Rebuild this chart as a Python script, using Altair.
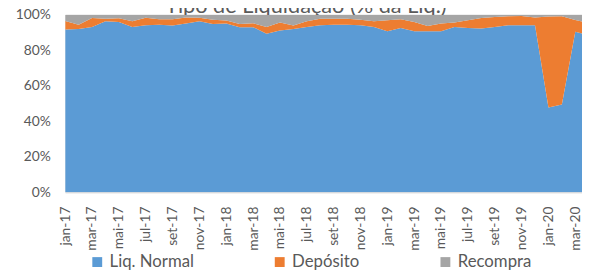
import altair as alt
import pandas as pd

# ---- data ----
meses = ["jan-17", "fev-17", "mar-17", "abr-17", "mai-17", "jun-17", "jul-17", "ago-17",
         "set-17", "out-17", "nov-17", "dez-17", "jan-18", "fev-18", "mar-18", "abr-18",
         "mai-18", "jun-18", "jul-18", "ago-18", "set-18", "out-18", "nov-18", "dez-18",
         "jan-19", "fev-19", "mar-19", "abr-19", "mai-19", "jun-19", "jul-19", "ago-19",
         "set-19", "out-19", "nov-19", "dez-19", "jan-20", "fev-20", "mar-20", "abr-20"]

liq_normal = [91.7, 92.0, 93.1, 96.3, 95.9, 93.1, 94.1, 94.4, 94.0, 95.0,
              96.3, 94.8, 95.0, 93.0, 93.0, 89.3, 91.1, 92.0, 93.1, 94.1,
              94.4, 94.4, 94.1, 93.1, 90.7, 92.6, 90.7, 90.7, 90.7, 93.1,
              92.6, 92.2, 93.1, 94.1, 94.1, 94.1, 47.8, 49.5, 90.4, 88.5]

deposito = [4.8, 2.4, 5.0, 1.5, 2.1, 3.2, 4.2, 3.0, 3.4, 3.5,
            2.0, 2.4, 1.7, 1.8, 2.2, 3.8, 4.6, 1.9, 3.2, 3.7,
            3.4, 3.4, 3.1, 3.2, 6.2, 4.8, 5.2, 3.0, 4.3, 2.5,
            4.3, 5.9, 5.6, 5.0, 5.2, 4.4, 51.2, 49.6, 6.6, 7.0]

recompra = [3.5, 5.6, 1.9, 2.2, 2.0, 3.7, 1.7, 2.6, 2.6, 1.5,
            1.7, 2.8, 3.3, 5.2, 4.8, 6.9, 4.3, 6.1, 3.7, 2.2,
            2.2, 2.2, 2.8, 3.7, 3.1, 2.6, 4.1, 6.3, 5.0, 4.4,
            3.1, 1.9, 1.3, 0.9, 0.7, 1.5, 1.0, 0.9, 3.0, 4.5]

series = ["Liq. Normal", "Depósito", "Recompra"]
cores = ["#5B9BD5", "#ED7D31", "#A5A5A5"]
y_ticks = [0, 20, 40, 60, 80, 100]
titulo = "Tipo de Liquidação (% da Liq.)"

rows = []
for k, (nome, vals) in enumerate(zip(series, [liq_normal, deposito, recompra])):
    for i, v in enumerate(vals):
        rows.append({"m": i, "mes": meses[i], "serie": nome, "ordem": k, "valor": v})
df = pd.DataFrame(rows)

label_expr = "[" + ",".join("'" + m + "'" for m in meses) + "][datum.value]"

FONT = "Lato"
GRAY = "#595959"

area = alt.Chart(df).mark_area(clip=True, interpolate="linear").encode(
    x=alt.X("m:Q",
            scale=alt.Scale(domain=[0, 38.5], nice=False, zero=False),
            axis=alt.Axis(values=list(range(0, 39, 2)), labelExpr=label_expr,
                          labelAngle=-90, labelFontSize=14, labelColor=GRAY,
                          labelFont=FONT, ticks=False, labelPadding=14,
                          domainColor="#D9D9D9", grid=False, title=None,
                          labelOverlap=False)),
    y=alt.Y("valor:Q", stack="zero",
            scale=alt.Scale(domain=[0, 100], nice=False),
            axis=alt.Axis(values=y_ticks, labelExpr="datum.value + '%'",
                          labelFontSize=14, labelColor=GRAY, labelFont=FONT,
                          ticks=False, domain=False, grid=False, labelPadding=15,
                          title=None)),
    color=alt.Color("serie:N",
                    scale=alt.Scale(domain=series, range=cores),
                    legend=alt.Legend(orient="none", direction="horizontal",
                                      legendX=24, legendY=242, title=None,
                                      symbolType="square", symbolSize=100,
                                      symbolStrokeWidth=0, labelFontSize=17,
                                      labelFont=FONT, labelColor=GRAY,
                                      labelOffset=4, columnPadding=78,
                                      padding=0)),
    order=alt.Order("ordem:Q", sort="ascending"),
)

title_df = pd.DataFrame({"t": [titulo]})
title_mark = alt.Chart(title_df).mark_text(
    font=FONT, fontSize=22, color=GRAY, align="center", baseline="alphabetic"
).encode(text="t:N", x=alt.value(244), y=alt.value(-2))

chart = alt.layer(title_mark, area).properties(
    width=524, height=180,
    autosize=alt.AutoSizeParams(type="none"),
    padding={"left": 58, "top": 5, "right": 0, "bottom": 79},
).configure_view(stroke=None).configure(background="white")

chart.save("out.html", embed_options={"renderer": "svg", "actions": False})
